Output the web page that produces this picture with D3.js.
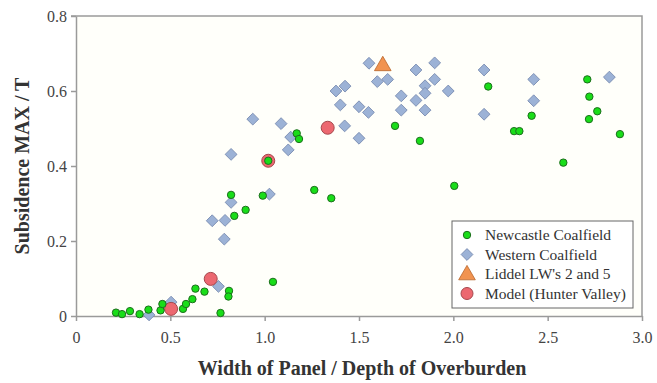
<!DOCTYPE html>
<html>
<head>
<meta charset="utf-8">
<script src="https://cdn.jsdelivr.net/npm/d3@7"></script>
<style>
  html, body { margin: 0; padding: 0; background: #ffffff; }
  svg { display: block; }
  text { font-family: "Liberation Serif", "Times New Roman", serif; }
</style>
</head>
<body>
<svg id="chart" width="657" height="383"></svg>
<script>
// Ratio of panel width to overburden depth vs. maximum subsidence / seam thickness
const newcastleX = [0.212, 0.244, 0.286, 0.337, 0.384, 0.448, 0.458, 0.567, 0.583, 0.617,
  0.633, 0.681, 0.766, 0.811, 0.808, 0.822, 0.899, 0.839, 0.990, 1.019,
  1.170, 1.182, 1.263, 1.353, 1.044, 1.691, 1.823, 2.005, 2.185, 2.322,
  2.350, 2.415, 2.583, 2.710, 2.721, 2.763, 2.719, 2.883];
const newcastleY = [0.009, 0.005, 0.013, 0.005, 0.017, 0.015, 0.032, 0.019, 0.032, 0.045,
  0.073, 0.065, 0.008, 0.067, 0.052, 0.323, 0.283, 0.267, 0.321, 0.414,
  0.487, 0.472, 0.336, 0.314, 0.091, 0.507, 0.467, 0.347, 0.612, 0.493,
  0.493, 0.534, 0.409, 0.631, 0.585, 0.546, 0.525, 0.485];

const westernX = [0.387, 0.504, 0.755, 0.722, 0.790, 0.786, 0.822, 0.822, 0.937, 1.087,
  1.138, 1.125, 1.025, 1.378, 1.426, 1.401, 1.424, 1.500, 1.550, 1.500,
  1.553, 1.597, 1.652, 1.802, 1.901, 1.901, 1.850, 1.850, 1.973, 1.724,
  1.802, 1.724, 1.850, 2.163, 2.163, 2.426, 2.426, 2.827];
const westernY = [0.003, 0.037, 0.079, 0.254, 0.255, 0.205, 0.303, 0.431, 0.525, 0.513,
  0.477, 0.443, 0.325, 0.600, 0.613, 0.563, 0.507, 0.558, 0.543, 0.474,
  0.674, 0.625, 0.631, 0.656, 0.675, 0.631, 0.614, 0.594, 0.600, 0.587,
  0.575, 0.549, 0.549, 0.656, 0.538, 0.631, 0.574, 0.637];

const liddellX = [1.626];
const liddellY = [0.667];

const modelX = [0.504, 0.714, 1.019, 1.334];
const modelY = [0.019, 0.099, 0.414, 0.502];

const xTicks = [0, 0.5, 1.0, 1.5, 2.0, 2.5, 3.0];
const xTickLabels = ["0", "0.5", "1.0", "1.5", "2.0", "2.5", "3.0"];
const yTicks = [0, 0.2, 0.4, 0.6, 0.8];
const yTickLabels = ["0", "0.2", "0.4", "0.6", "0.8"];

const legendLabels = ["Newcastle Coalfield", "Western Coalfield", "Liddel LW's 2 and 5", "Model (Hunter Valley)"];

const svg = d3.select("#chart");
const margin = { left: 76, right: 15, top: 16, bottom: 67 };
const W = 657, H = 383;
const x = d3.scaleLinear().domain([0, 3]).range([margin.left, W - margin.right]);
const y = d3.scaleLinear().domain([0, 0.8]).range([H - margin.bottom, margin.top]);

const axisColor = "#9a9a9a";
const serif = "'Liberation Serif', 'Times New Roman', serif";

// plot background
svg.append("rect")
  .attr("x", x(0)).attr("y", y(0.8))
  .attr("width", x(3) - x(0)).attr("height", y(0) - y(0.8))
  .attr("fill", "#fffffa");

// frame: top and right edges
svg.append("path")
  .attr("d", `M${x(0) - 5},${y(0.8)}H${x(3)}V${y(0) + 1}`)
  .attr("fill", "none").attr("stroke", axisColor).attr("stroke-width", 1.5);

// axes
const xAxis = d3.axisBottom(x).tickValues(xTicks)
  .tickFormat((d, i) => xTickLabels[i]).tickSize(5).tickPadding(11).tickSizeOuter(0);
const yAxis = d3.axisLeft(y).tickValues(yTicks)
  .tickFormat((d, i) => yTickLabels[i]).tickSize(5).tickPadding(4).tickSizeOuter(0);

const gx = svg.append("g").attr("transform", `translate(0,${y(0)})`).call(xAxis);
const gy = svg.append("g").attr("transform", `translate(${x(0)},0)`).call(yAxis);
[gx, gy].forEach(g => {
  g.attr("font-family", serif);
  g.select(".domain").attr("stroke", axisColor).attr("stroke-width", 1.5);
  g.selectAll(".tick line").attr("stroke", axisColor).attr("stroke-width", 1.5);
  g.selectAll(".tick text")
    .attr("fill", "#444")
    .style("font-family", serif)
    .style("font-size", "16px");
});

// axis titles
svg.append("text")
  .attr("x", (x(0) + x(3)) / 2 + 3).attr("y", 375)
  .attr("text-anchor", "middle")
  .style("font-family", serif)
  .style("font-size", "20px").style("font-weight", "bold").attr("fill", "#333")
  .text("Width of Panel / Depth of Overburden");

svg.append("text")
  .attr("transform", `translate(29,${(y(0) + y(0.8)) / 2}) rotate(-90)`)
  .attr("text-anchor", "middle")
  .style("font-family", serif)
  .style("font-size", "20px").style("font-weight", "bold").attr("fill", "#333")
  .text("Subsidence MAX / T");

// marker styles
const diamond = d3.symbol().type(d3.symbolSquare).size(70);
const triangle = d3.symbol().type(d3.symbolTriangle).size(120);

const green = { fill: "#19dd19", stroke: "#1d6e1d" };
const blue = { fill: "#9cb2d6", stroke: "#7588ad" };
const orange = { fill: "#f19350", stroke: "#b8652a" };
const red = { fill: "#ec6870", stroke: "#a5474c" };

const plot = svg.append("g");

// Western Coalfield diamonds
plot.selectAll(".west").data(d3.zip(westernX, westernY)).join("path")
  .attr("class", "west")
  .attr("d", diamond)
  .attr("transform", d => `translate(${x(d[0])},${y(d[1])}) rotate(45)`)
  .attr("fill", blue.fill).attr("stroke", blue.stroke).attr("stroke-width", 0.8);

// Hunter Valley model
plot.selectAll(".model").data(d3.zip(modelX, modelY)).join("circle")
  .attr("class", "model")
  .attr("cx", d => x(d[0])).attr("cy", d => y(d[1])).attr("r", 6.5)
  .attr("fill", red.fill).attr("stroke", red.stroke).attr("stroke-width", 1);

// Newcastle Coalfield circles
plot.selectAll(".newc").data(d3.zip(newcastleX, newcastleY)).join("circle")
  .attr("class", "newc")
  .attr("cx", d => x(d[0])).attr("cy", d => y(d[1])).attr("r", 3.7)
  .attr("fill", green.fill).attr("stroke", green.stroke).attr("stroke-width", 1);

// Liddel longwalls
plot.selectAll(".lid").data(d3.zip(liddellX, liddellY)).join("path")
  .attr("class", "lid")
  .attr("d", triangle)
  .attr("transform", d => `translate(${x(d[0])},${y(d[1])})`)
  .attr("fill", orange.fill).attr("stroke", orange.stroke).attr("stroke-width", 0.8);

// legend
const lg = svg.append("g").attr("transform", "translate(452,221)");
lg.append("rect").attr("width", 181).attr("height", 87)
  .attr("fill", "#ffffff").attr("stroke", "#666").attr("stroke-width", 1);

const rowY = [14, 33.5, 53, 72.5];
const symX = 15;
lg.append("circle").attr("cx", symX).attr("cy", rowY[0]).attr("r", 3.7)
  .attr("fill", green.fill).attr("stroke", green.stroke);
lg.append("path").attr("d", diamond)
  .attr("transform", `translate(${symX},${rowY[1]}) rotate(45)`)
  .attr("fill", blue.fill).attr("stroke", blue.stroke).attr("stroke-width", 0.8);
lg.append("path").attr("d", triangle)
  .attr("transform", `translate(${symX},${rowY[2] + 1})`)
  .attr("fill", orange.fill).attr("stroke", orange.stroke).attr("stroke-width", 0.8);
lg.append("circle").attr("cx", symX).attr("cy", rowY[3]).attr("r", 6)
  .attr("fill", red.fill).attr("stroke", red.stroke);

lg.selectAll(".lgtext").data(legendLabels).join("text")
  .attr("class", "lgtext")
  .attr("x", 33).attr("y", (d, i) => rowY[i])
  .attr("dy", "0.35em")
  .style("font-family", serif)
  .style("font-size", "15.5px").attr("fill", "#333")
  .text(d => d);
</script>
</body>
</html>
